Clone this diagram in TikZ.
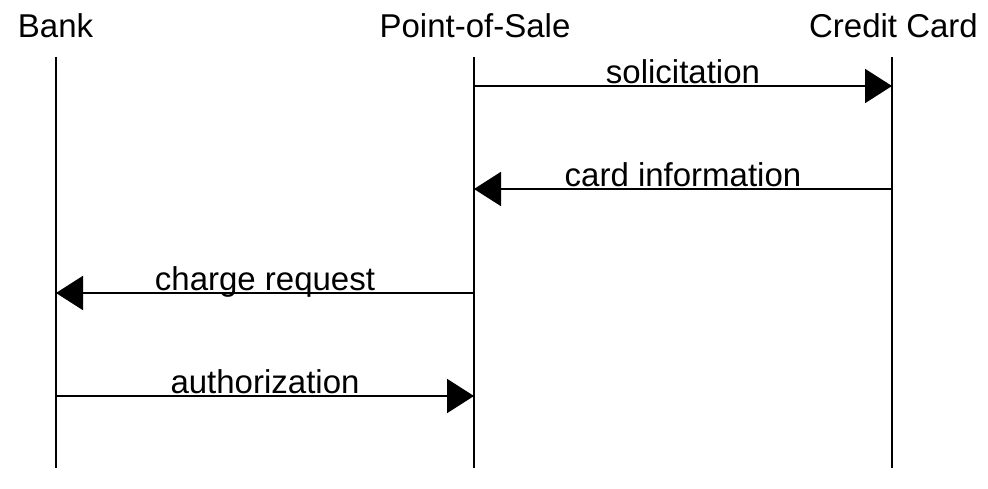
\documentclass[tikz,border=0pt]{standalone}
\usepackage{fontspec}
\setmainfont{Liberation Sans}
\usetikzlibrary{arrows.meta}
\begin{document}
\begin{tikzpicture}[x=1pt,y=-1pt,
  lifeline/.style={line width=2pt},
  msg/.style={line width=2pt,-{Triangle[length=27pt,width=34pt]}},
  head/.style={anchor=base,inner sep=0pt,font=\fontsize{33}{40}\selectfont},
  msglabel/.style={anchor=base,inner sep=0pt,font=\fontsize{33}{40}\selectfont}]
\useasboundingbox (0,0) rectangle (988,489);
% headers
\node[head] (bank) at (55.5,38) {Bank};
\node[head] (pos) at (475,38) {Point-of-Sale};
\node[head] (cc) at (893.5,38) {Credit Card};
% lifeline ends
\coordinate (bankT) at (56,57);  \coordinate (bankB) at (56,468);
\coordinate (posT) at (474,57);  \coordinate (posB) at (474,468);
\coordinate (ccT) at (892,57);   \coordinate (ccB) at (892,468);
\draw[lifeline] (bankT) -- (bankB);
\draw[lifeline] (posT) -- (posB);
\draw[lifeline] (ccT) -- (ccB);
% message points
\coordinate (pos1) at (474,86);  \coordinate (cc1) at (892,86);
\coordinate (cc2) at (892,189);  \coordinate (pos2) at (474,189);
\coordinate (pos3) at (474,293); \coordinate (bank3) at (56,293);
\coordinate (bank4) at (56,396); \coordinate (pos4) at (474,396);
\draw[msg] (pos1) -- (cc1);
\draw[msg] (cc2) -- (pos2);
\draw[msg] (pos3) -- (bank3);
\draw[msg] (bank4) -- (pos4);
% labels
\node[msglabel] (l1) at (683,83.5) {solicitation};
\node[msglabel] (l2) at (683,186.5) {card information};
\node[msglabel] (l3) at (265,290.5) {charge request};
\node[msglabel] (l4) at (265,393.5) {authorization};
\end{tikzpicture}
\end{document}
